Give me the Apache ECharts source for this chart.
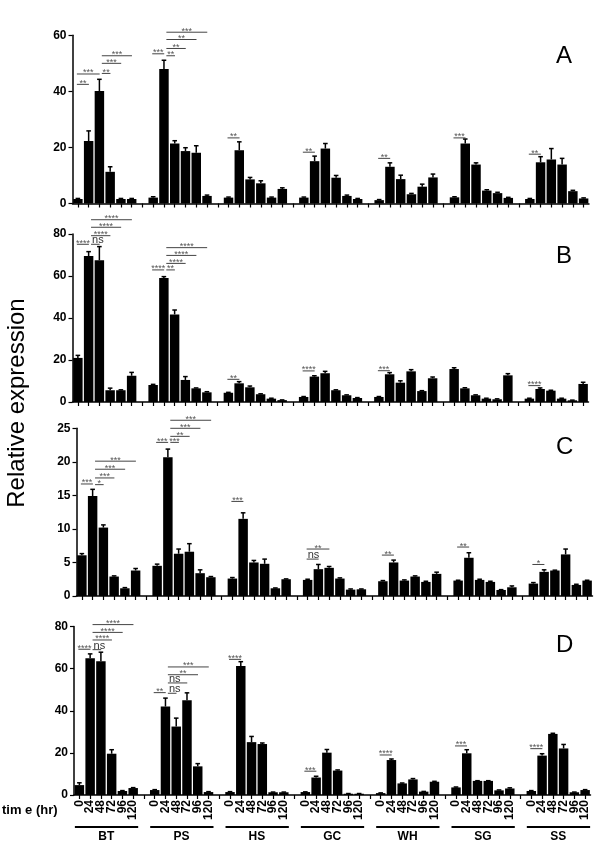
<!DOCTYPE html>
<html>
<head>
<meta charset="utf-8">
<script src="https://cdn.jsdelivr.net/npm/echarts@6/dist/echarts.min.js"></script>
<style>html,body{margin:0;padding:0;background:#fff;}#c{width:612px;height:850px;}</style>
</head>
<body>
<div id="c"></div>
<script>
// ---------- data ----------
const groups = ['BT', 'PS', 'HS', 'GC', 'WH', 'SG', 'SS'];
const times = ['0', '24', '48', '72', '96', '120'];

const aVals = [1.6, 22.3, 40.1, 11.3, 1.6, 1.6,  2.1, 48.0, 21.4, 18.7, 18.1, 2.7,  2.1, 19.0, 8.6, 7.2, 2.1, 5.2,
               2.1, 15.1, 19.6, 9.2, 2.7, 1.6,  1.2, 13.1, 8.7, 3.3, 6.0, 9.3,  2.2, 21.4, 13.9, 4.6, 3.7, 2.0,
               1.6, 14.7, 15.7, 13.9, 4.4, 1.8];
const aErr  = [0.2, 3.6, 4.2, 1.8, 0.2, 0.2,  0.3, 3.1, 1.0, 1.2, 2.5, 0.3,  0.2, 3.0, 0.7, 0.9, 0.2, 0.4,
               0.2, 1.8, 1.8, 0.8, 0.3, 0.2,  0.2, 1.4, 1.4, 0.3, 0.9, 1.2,  0.2, 1.6, 0.6, 0.3, 0.3, 0.2,
               0.2, 2.0, 3.9, 2.2, 0.3, 0.2];
const bVals = [21.0, 69.5, 67.5, 5.6, 5.6, 12.5,  8.1, 59.0, 41.7, 10.5, 6.5, 4.6,  4.4, 8.9, 7.0, 3.7, 1.6, 0.9,
               2.4, 12.1, 13.7, 5.6, 3.2, 1.9,  2.4, 13.2, 9.2, 14.6, 5.2, 11.3,  15.7, 6.5, 3.2, 1.6, 1.3, 12.7,
               1.6, 6.2, 5.4, 1.6, 0.8, 8.6];
const bErr  = [1.2, 2.1, 6.5, 1.0, 0.2, 1.6,  0.3, 0.7, 2.1, 1.6, 0.2, 0.3,  0.2, 0.8, 0.6, 0.2, 0.2, 0.1,
               0.2, 0.4, 0.9, 0.2, 0.2, 0.2,  0.2, 0.8, 0.9, 0.8, 0.2, 0.6,  0.6, 0.3, 0.2, 0.2, 0.2, 0.8,
               0.2, 0.5, 0.2, 0.2, 0.1, 0.8];
const cVals = [6.07, 14.9, 10.2, 2.9, 1.15, 3.8,  4.5, 20.7, 6.3, 6.6, 3.4, 2.8,  2.6, 11.5, 5.0, 4.8, 1.15, 2.5,
               2.4, 4.0, 4.2, 2.6, 0.95, 1.0,  2.2, 5.0, 2.3, 2.9, 2.1, 3.3,  2.3, 5.7, 2.4, 2.1, 0.9, 1.3,
               1.85, 3.6, 3.8, 6.2, 1.65, 2.3];
const cErr  = [0.25, 1.0, 0.4, 0.1, 0.1, 0.3,  0.25, 1.2, 0.7, 1.2, 0.5, 0.1,  0.15, 0.9, 0.3, 0.7, 0.05, 0.05,
               0.1, 0.7, 0.2, 0.1, 0.1, 0.05,  0.1, 0.35, 0.1, 0.1, 0.1, 0.25,  0.05, 0.75, 0.1, 0.1, 0.05, 0.2,
               0.15, 0.3, 0.05, 0.8, 0.1, 0.05];
const dVals = [4.7, 64.9, 63.5, 19.6, 1.9, 3.3,  2.35, 42.0, 32.5, 45.0, 13.6, 1.4,  1.4, 61.3, 25.1, 24.2, 1.3, 1.3,
               1.4, 8.3, 20.1, 11.6, 0.6, 0.6,  0.9, 16.6, 5.5, 7.4, 1.6, 6.3,  3.6, 19.8, 6.7, 6.7, 2.2, 3.1,
               1.9, 18.7, 29.0, 22.1, 1.3, 2.35];
const dErr  = [1.1, 2.1, 4.3, 1.9, 0.2, 0.2,  0.2, 4.0, 4.0, 3.5, 1.3, 0.2,  0.2, 2.0, 2.7, 0.5, 0.1, 0.1,
               0.1, 0.6, 1.5, 0.3, 0.1, 0.1,  0.1, 0.5, 0.2, 0.4, 0.1, 0.2,  0.2, 1.7, 0.1, 0.1, 0.2, 0.3,
               0.2, 0.9, 0.3, 1.9, 0.1, 0.2];

// significance brackets: [from slot, to slot, level, label] (slot = group*7 + time)
const aSig = [[0,1,42.5,'**'],[0,2,46.2,'***'],[2,3,46.4,'**'],[2,4,50,'***'],[2,5,52.7,'***'],
              [7,8,53.4,'***'],[8,9,52.7,'**'],[8,10,55.3,'**'],[8,11,58.5,'**'],[8,12,61.1,'***'],
              [14,15,23.4,'**'],[21,22,18.3,'**'],[28,29,16.1,'**'],[35,36,23.4,'***'],[42,43,17.6,'**']];
const bSig = [[0,1,75.1,'****'],[1,2,75.1,'ns'],[1,3,79.2,'****'],[1,4,83.2,'****'],[1,5,86.8,'****'],
              [7,8,62.9,'****'],[8,9,62.9,'**'],[8,10,66,'****'],[8,11,69.8,'****'],[8,12,73.5,'****'],
              [14,15,10.8,'**'],[21,22,14.8,'****'],[28,29,14.9,'***'],[42,43,7.8,'****']];
const cSig = [[0,1,16.7,'***'],[1,2,16.6,'*'],[1,3,17.6,'***'],[1,4,18.9,'***'],[1,5,20.1,'***'],
              [7,8,22.9,'***'],[8,9,22.9,'***'],[8,10,23.8,'**'],[8,11,25.0,'***'],[8,12,26.2,'***'],
              [14,15,14.1,'***'],[21,22,5.5,'ns'],[21,23,7.0,'**'],[28,29,6.1,'**'],[35,36,7.3,'**'],[42,43,4.7,'*']];
const dSig = [[0,1,69.2,'****'],[1,2,69.0,'ns'],[1,3,73.6,'****'],[1,4,77.2,'****'],[1,5,80.9,'****'],
              [7,8,48.6,'**'],[8,9,48.3,'ns'],[8,10,53.2,'ns'],[8,11,57.1,'**'],[8,12,60.8,'***'],
              [14,15,64.4,'****'],[21,22,11.3,'***'],[28,29,19.0,'****'],[35,36,23.3,'***'],[42,43,22.0,'****']];

const yMax = [60, 80, 25, 80];
const yStep = [20, 20, 5, 20];
const letters = ['A', 'B', 'C', 'D'];
const yTitle = 'Relative expression';
const xTitle = 'tim e (hr)';

// ---------- build ----------
const FONT = '"Liberation Sans", Arial, Helvetica, sans-serif';
const cats = [];
groups.forEach((g, gi) => {
  times.forEach(t => cats.push(g + '|' + t));
  if (gi < groups.length - 1) cats.push('gap' + gi);
});
function slotOf(i) { return Math.floor(i / 6) * 7 + (i % 6); }
function expand(vals) {
  const out = cats.map(() => '-');
  vals.forEach((v, i) => { out[slotOf(i)] = v; });
  return out;
}
function errData(vals, errs) { return vals.map((v, i) => [slotOf(i), v, errs[i]]); }

const grids = [
  { left: 72.5, top: 35.3, width: 516.5, height: 168.2 },
  { left: 72.5, top: 234, width: 516, height: 168 },
  { left: 76.5, top: 428.3, width: 516, height: 167.7 },
  { left: 74, top: 626.5, width: 516.5, height: 168.5 }
];
const allVals = [aVals, bVals, cVals, dVals];
const allErr = [aErr, bErr, cErr, dErr];
const allSig = [aSig, bSig, cSig, dSig];

const xAxes = [], yAxes = [], series = [];
for (let p = 0; p < 4; p++) {
  const last = p === 3;
  xAxes.push({
    type: 'category', gridIndex: p, data: cats,
    axisLine: { lineStyle: { color: '#000', width: 1.5 } },
    axisTick: { show: true, alignWithLabel: true, interval: 0, length: 4, lineStyle: { color: '#000', width: 1.2 } },
    axisLabel: {
      show: last, interval: 0, rotate: 90, margin: 5,
      fontFamily: FONT, fontWeight: 'bold', fontSize: 12, color: '#000',
      formatter: v => v.indexOf('|') >= 0 ? v.split('|')[1] : ''
    },
    splitLine: { show: false }
  });
  yAxes.push({
    type: 'value', gridIndex: p, min: 0, max: yMax[p], interval: yStep[p],
    axisLine: { show: true, lineStyle: { color: '#000', width: 1.5 } },
    axisTick: { show: true, length: 4, lineStyle: { color: '#000', width: 1.2 } },
    axisLabel: { fontFamily: FONT, fontWeight: 'bold', fontSize: 12, color: '#000', margin: 6 },
    splitLine: { show: false }
  });
  series.push({
    type: 'bar', xAxisIndex: p, yAxisIndex: p, data: expand(allVals[p]),
    barWidth: '88%', itemStyle: { color: '#000' }, silent: true
  });
  series.push({
    type: 'custom', xAxisIndex: p, yAxisIndex: p, data: errData(allVals[p], allErr[p]),
    encode: { x: 0, y: 1 }, clip: false, silent: true,
    renderItem: (params, api) => {
      const x = api.value(0), v = api.value(1), e = api.value(2);
      const p0 = api.coord([x, v]), p1 = api.coord([x, v + e]);
      const w = 2.3;
      return { type: 'group', children: [
        { type: 'line', shape: { x1: p0[0], y1: p0[1], x2: p1[0], y2: p1[1] }, style: { stroke: '#000', lineWidth: 1.5 } },
        { type: 'line', shape: { x1: p1[0] - w, y1: p1[1], x2: p1[0] + w, y2: p1[1] }, style: { stroke: '#000', lineWidth: 1.5 } }
      ]};
    }
  });
  const sig = allSig[p];
  series.push({
    type: 'custom', xAxisIndex: p, yAxisIndex: p, data: sig.map(s => [s[0], s[2]]),
    encode: { x: 0, y: 1 }, clip: false, silent: true,
    renderItem: (params, api) => {
      const s = sig[params.dataIndex];
      const pa = api.coord([s[0], s[2]]), pb = api.coord([s[1], s[2]]);
      const half = api.size([1, 0])[0] / 2;
      const firstInGroup = (s[0] % 7) === 0;
      const x1 = pa[0] + (firstInGroup ? -1 : half * 0.45);
      const x2 = pb[0] + half * 0.05;
      const y = pa[1];
      const ns = s[3] === 'ns';
      return { type: 'group', children: [
        { type: 'line', shape: { x1: x1, y1: y, x2: x2, y2: y }, style: { stroke: '#444', lineWidth: 1 } },
        { type: 'text', style: {
            text: s[3], x: ns ? x1 + 1 : (x1 + x2) / 2, y: ns ? y + 1.5 : y - 1,
            align: ns ? 'left' : 'center', verticalAlign: ns ? 'bottom' : 'middle',
            fill: ns ? '#333' : '#555', fontSize: ns ? 11 : 9, fontFamily: FONT } }
      ]};
    }
  });
}
// group labels under the bottom panel
series.push({
  type: 'custom', xAxisIndex: 3, yAxisIndex: 3, data: groups.map((g, i) => [i * 7, 0]),
  encode: { x: 0, y: 1 }, clip: false, silent: true,
  renderItem: (params, api) => {
    const i = params.dataIndex;
    const p0 = api.coord([i * 7, 0]), p1 = api.coord([i * 7 + 5, 0]);
    const y = p0[1] + 32;
    return { type: 'group', children: [
      { type: 'line', shape: { x1: p0[0] - 4.5, y1: y, x2: p1[0] + 5, y2: y }, style: { stroke: '#000', lineWidth: 2 } },
      { type: 'text', style: { text: groups[i], x: (p0[0] + p1[0]) / 2, y: y + 9.5, align: 'center', verticalAlign: 'middle',
        fill: '#000', fontSize: 12, fontWeight: 'bold', fontFamily: FONT } }
    ]};
  }
});

const letterY = [56, 256, 447, 645];
const graphic = letters.map((L, i) => ({
  type: 'text', left: 556, top: letterY[i] - 12,
  style: { text: L, fill: '#000', fontSize: 24, fontFamily: FONT }
}));
graphic.push({
  type: 'text', x: 17, y: 403, rotation: Math.PI / 2,
  style: { text: yTitle, fill: '#000', fontSize: 24, fontFamily: FONT, align: 'center', verticalAlign: 'middle' }
});
graphic.push({
  type: 'text', x: 2, y: 810,
  style: { text: xTitle, fill: '#000', fontSize: 13, fontWeight: 'bold', fontFamily: FONT, align: 'left', verticalAlign: 'middle' }
});

const chart = echarts.init(document.getElementById('c'), null, { renderer: 'canvas' });
chart.setOption({
  animation: false,
  backgroundColor: '#fff',
  grid: grids,
  xAxis: xAxes,
  yAxis: yAxes,
  series: series,
  graphic: graphic
});
</script>
</body>
</html>
